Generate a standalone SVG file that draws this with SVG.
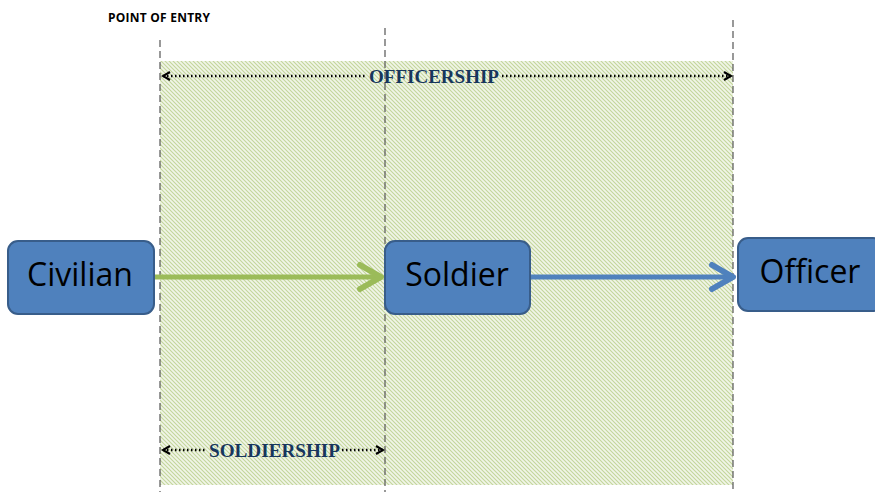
<svg xmlns="http://www.w3.org/2000/svg" width="875" height="492" viewBox="0 0 875 492">
<style>
.node{fill:#4f81bd;stroke:#385d8a;stroke-width:2}
.lbl{font-family:"Open Sans","Liberation Sans",sans-serif;font-size:32px;fill:#000;text-anchor:middle}
.guide{stroke:#555;stroke-width:1.2;stroke-dasharray:7,4;fill:none}
.span{stroke:#000;stroke-width:2.5;stroke-dasharray:1.5,2.5;fill:none}
.spanlbl{font-family:"Liberation Serif",serif;font-weight:bold;font-size:19px;fill:#17365d}
</style>
<defs>
<pattern id="hatch" patternUnits="userSpaceOnUse" width="4" height="4">
<rect width="4" height="4" fill="#f1f5e8"/>
<path d="M-1,-1 L5,5 M-1,3 L1,5 M3,-1 L5,1" stroke="#c3d69b" stroke-width="1.1"/>
</pattern>
<marker id="dotHead" viewBox="0 0 10 10" refX="8" refY="5" markerWidth="4" markerHeight="4" orient="auto-start-reverse" markerUnits="strokeWidth">
<path d="M1,1 L8,5 L1,9" fill="none" stroke="#000" stroke-width="2.2"/>
</marker>
</defs>
<rect x="160" y="61" width="573" height="424" fill="url(#hatch)"/>
<g id="guides">
<line class="guide" x1="160" y1="40" x2="160" y2="492"/>
<line class="guide" x1="385" y1="28" x2="385" y2="492"/>
<line class="guide" x1="733" y1="20" x2="733" y2="492"/>
</g>
<text x="108" y="22" font-family="'Open Sans','Liberation Sans',sans-serif" font-weight="bold" font-size="12" textLength="102" fill="#000">POINT OF ENTRY</text>
<g id="officership">
<line class="span" x1="163" y1="76" x2="366" y2="76" marker-start="url(#dotHead)"/>
<line class="span" x1="502" y1="76" x2="731" y2="76" marker-end="url(#dotHead)"/>
<text class="spanlbl" x="369" y="83" textLength="130" lengthAdjust="spacingAndGlyphs">OFFICERSHIP</text>
</g>
<g id="soldiership">
<line class="span" x1="163" y1="450" x2="207" y2="450" marker-start="url(#dotHead)"/>
<line class="span" x1="342" y1="450" x2="383" y2="450" marker-end="url(#dotHead)"/>
<text class="spanlbl" x="209" y="457" textLength="131" lengthAdjust="spacingAndGlyphs">SOLDIERSHIP</text>
</g>
<g id="connectors">
<line x1="154" y1="277" x2="380" y2="277" stroke="#9bbb59" stroke-width="5"/>
<path d="M360,265 L381,277 L360,289" fill="none" stroke="#9bbb59" stroke-width="6" stroke-linecap="round" stroke-linejoin="round"/>
<line x1="530" y1="277" x2="732" y2="277" stroke="#4f81bd" stroke-width="5"/>
<path d="M712,265 L733,277 L712,289" fill="none" stroke="#4f81bd" stroke-width="6" stroke-linecap="round" stroke-linejoin="round"/>
</g>
<g id="civilian">
<rect class="node" x="8" y="241" width="146" height="73" rx="10"/>
<text class="lbl" x="80" y="286">Civilian</text>
</g>
<g id="soldier">
<rect class="node" x="385" y="241" width="145" height="73" rx="10"/>
<text class="lbl" x="457" y="286">Soldier</text>
</g>
<g id="officer">
<rect class="node" x="738" y="238" width="145" height="73" rx="10"/>
<text class="lbl" x="810" y="283">Officer</text>
</g>
</svg>
